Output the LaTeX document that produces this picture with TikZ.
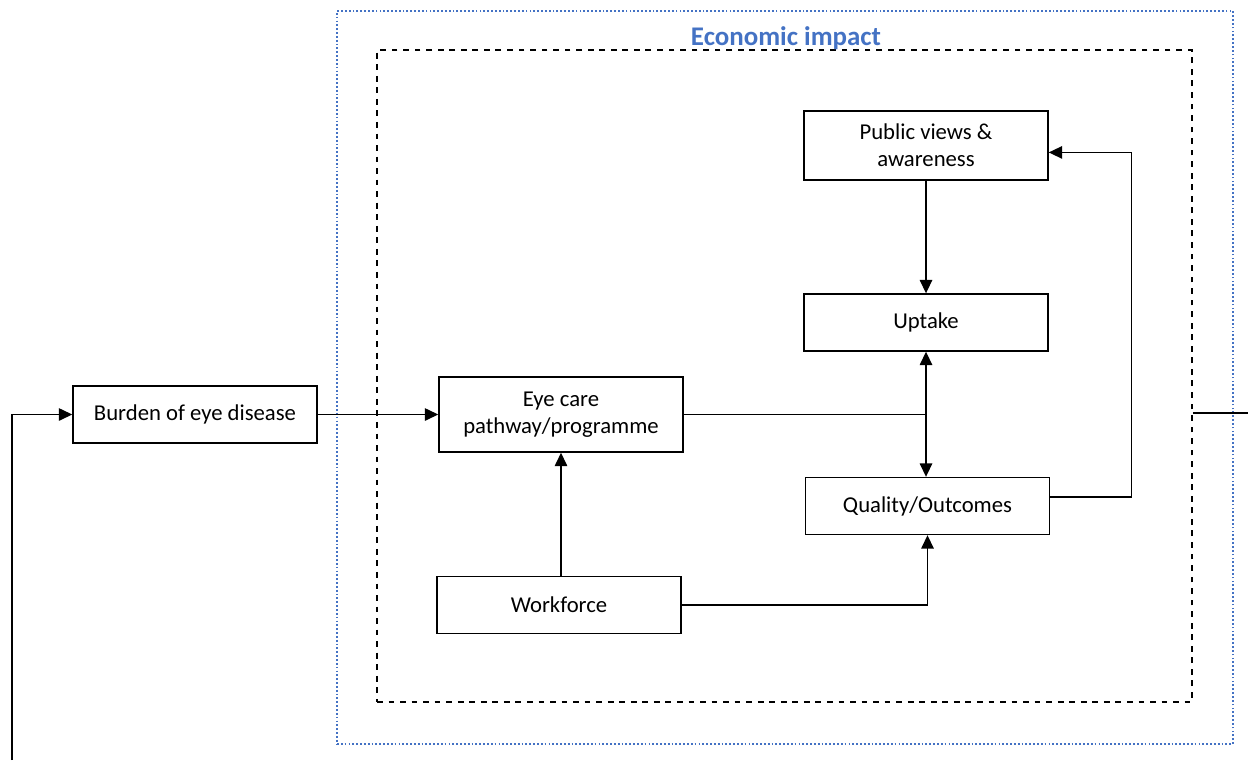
\documentclass[tikz,border=0pt]{standalone}
\usepackage{fontspec}
\setmainfont{Carlito}
\usetikzlibrary{positioning,calc,arrows.meta}
\definecolor{econblue}{RGB}{68,114,196}

\tikzset{
  box/.style={draw, line width=0.75pt, minimum width=126.9pt, minimum height=29.6pt,
    align=center, font=\fontsize{11.8}{14}\selectfont, inner sep=2pt},
  conn/.style={line width=0.75pt},
  arr/.style={conn, -{Triangle[width=6.5pt,length=7pt]}},
}

\begin{document}
\begin{tikzpicture}[x=0.52pt, y=-0.52pt]
  \useasboundingbox (0,0) rectangle (1248,760);
  % frames
  \node[draw=econblue, line width=0.9pt, dash pattern=on 0.9pt off 1.1pt, minimum width=465.9pt, minimum height=381.2pt]
    (impact) at (785,377.5) {};
  \node[draw, dashed, line width=0.8pt, minimum width=423.8pt, minimum height=339pt]
    (econ) at (784.5,376) {};
  \node[text=econblue, font=\fontsize{14}{16}\selectfont\bfseries] (title) at (786,38) {Economic impact};

  % boxes
  \node[box] (burden) at (195,414.5) {Burden of eye disease};
  \node[box, minimum height=39pt] (eye) at (561,414.5) {Eye care\\pathway/programme};
  \node[box] (work) at (559,605) {Workforce};
  \node[box, minimum height=36pt] (pub) at (926,145.5) {Public views \&\\awareness};
  \node[box] (upt) at (926,322.5) {Uptake};
  \node[box] (qual) at (927.5,506) {Quality/Outcomes};

  % connectors
  \coordinate (jn) at (eye.east -| upt.south);
  \coordinate (inl) at (12,760);
  \coordinate (outr) at (1248,413);
  \draw[arr] (inl) |- (burden.west);
  \draw[arr] (burden.east) -- (eye.west);
  \draw[conn] (eye.east) -- (jn);
  \draw[arr] (jn) -- (upt.south);
  \draw[arr] (jn) -- (jn |- qual.north);
  \draw[arr] (pub.south -| upt.north) -- (upt.north);
  \draw[arr] (work.north -| eye.south) -- (eye.south);
  \draw[arr] (work.east) -| (qual.south);
  \draw[arr] ([yshift=4.7pt]qual.east) -- ++(81,0) |- ([yshift=-3.6pt]pub.east);
  \draw[conn] (outr -| econ.east) -- (outr);
\end{tikzpicture}
\end{document}
